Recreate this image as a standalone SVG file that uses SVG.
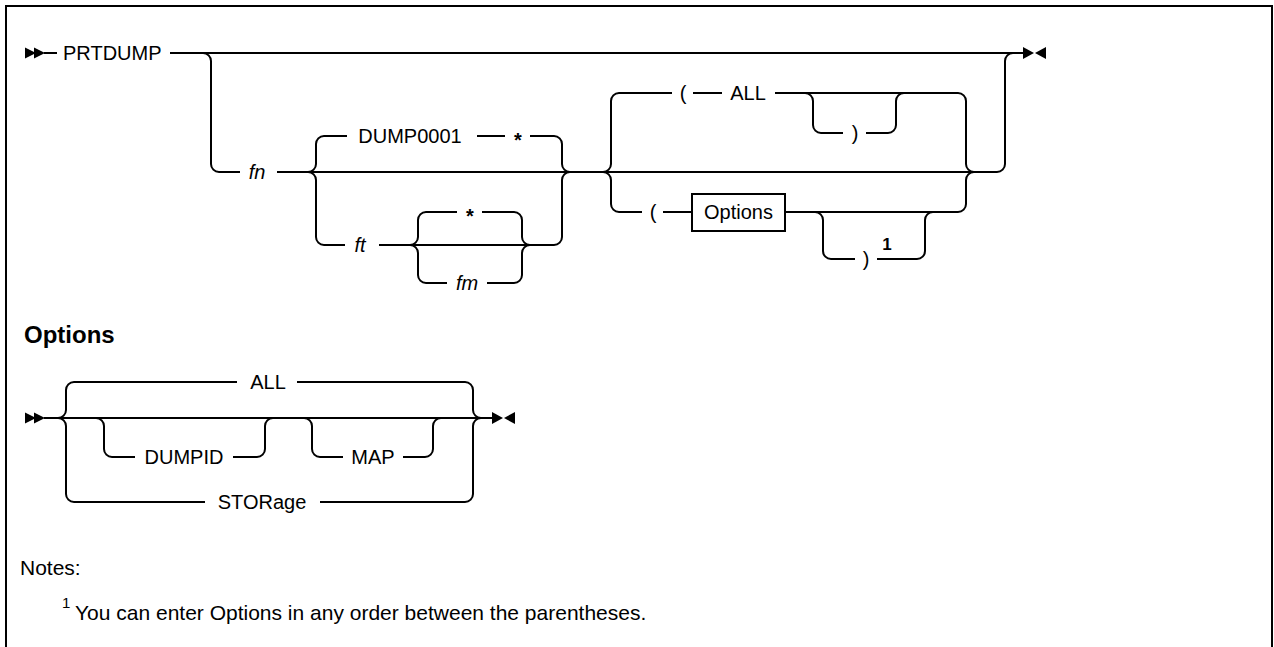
<svg xmlns="http://www.w3.org/2000/svg" width="1274" height="647" viewBox="0 0 1274 647">
  <style>
    .ln { fill: none; stroke: #000; stroke-width: 2; }
    .frame { fill: none; stroke: #000; stroke-width: 2; }
    .t { font-family: "Liberation Sans", Arial, sans-serif; font-size: 20px; fill: #000; }
    .c { text-anchor: middle; }
    .i { font-style: italic; }
    .b { font-weight: bold; }
    .hd { font-family: "Liberation Sans", Arial, sans-serif; font-size: 24px; font-weight: bold; fill: #000; }
    .nt { font-family: "Liberation Sans", Arial, sans-serif; font-size: 21px; fill: #000; }
    .sup { font-family: "Liberation Sans", Arial, sans-serif; font-size: 15px; fill: #000; }
    .mk { fill: #000; stroke: none; }
    .box { fill: #fff; stroke: #000; stroke-width: 2; }
  </style>
  <defs>
    <g id="start">
      <polygon points="0,-5.5 11,0 0,5.5"/>
      <polygon points="9,-5.5 20,0 9,5.5"/>
    </g>
    <g id="end">
      <polygon points="0,-6 11,0 0,6"/>
      <polygon points="23,-6 12,0 23,6"/>
    </g>
  </defs>

  <rect x="0" y="0" width="1274" height="647" fill="#fff"/>
  <!-- frame (open at the bottom) -->
  <path class="frame" d="M6,647 V6 H1272 V647"/>

  <!-- ===== PRTDUMP syntax ===== -->
  <g id="connectors-main">
    <!-- main line -->
    <path class="ln" d="M44,53 H57"/>
    <path class="ln" d="M170,53 H1023"/>
    <!-- optional fn branch -->
    <path class="ln" d="M203,53 A8 8 0 0 1 211,61 V164 A8 8 0 0 0 219,172 H240"/>
    <path class="ln" d="M277,172 H997 A8 8 0 0 0 1005,164 V61 A8 8 0 0 1 1013,53"/>
    <!-- fn choice: DUMP0001 * -->
    <path class="ln" d="M308,172 A8 8 0 0 0 316,164 V144 A8 8 0 0 1 324,136 H347"/>
    <path class="ln" d="M477,136 H505"/>
    <path class="ln" d="M530,136 H554 A8 8 0 0 1 562,144 V164 A8 8 0 0 0 570,172"/>
    <!-- fn choice: ft -->
    <path class="ln" d="M308,172 A8 8 0 0 1 316,180 V237 A8 8 0 0 0 324,245 H345"/>
    <path class="ln" d="M379,245 H554 A8 8 0 0 0 562,237 V180 A8 8 0 0 1 570,172"/>
    <!-- fm group: * / fm -->
    <path class="ln" d="M410,245 A8 8 0 0 0 418,237 V220 A8 8 0 0 1 426,212 H457"/>
    <path class="ln" d="M482,212 H514 A8 8 0 0 1 522,220 V237 A8 8 0 0 0 530,245"/>
    <path class="ln" d="M410,245 A8 8 0 0 1 418,253 V275 A8 8 0 0 0 426,283 H447"/>
    <path class="ln" d="M487,283 H514 A8 8 0 0 0 522,275 V253 A8 8 0 0 1 530,245"/>
    <!-- option group: ( ALL [)] -->
    <path class="ln" d="M603,172 A8 8 0 0 0 611,164 V101 A8 8 0 0 1 619,93 H672"/>
    <path class="ln" d="M693,93 H722"/>
    <path class="ln" d="M775,93 H958 A8 8 0 0 1 966,101 V164 A8 8 0 0 0 974,172"/>
    <path class="ln" d="M805,93 A8 8 0 0 1 813,101 V125 A8 8 0 0 0 821,133 H843"/>
    <path class="ln" d="M866,133 H888 A8 8 0 0 0 896,125 V101 A8 8 0 0 1 904,93"/>
    <!-- option group: ( Options [)1] -->
    <path class="ln" d="M603,172 A8 8 0 0 1 611,180 V204 A8 8 0 0 0 619,212 H642"/>
    <path class="ln" d="M663,212 H692"/>
    <path class="ln" d="M785,212 H958 A8 8 0 0 0 966,204 V180 A8 8 0 0 1 974,172"/>
    <path class="ln" d="M815,212 A8 8 0 0 1 823,220 V251 A8 8 0 0 0 831,259 H855"/>
    <path class="ln" d="M877,259 H917 A8 8 0 0 0 925,251 V220 A8 8 0 0 1 933,212"/>
  </g>

  <g id="start-main"><use href="#start" class="mk" x="25" y="53"/></g>
  <g id="end-main"><use href="#end" class="mk" x="1023" y="53"/></g>

  <g id="kw-prtdump"><text class="t" x="63" y="60">PRTDUMP</text></g>
  <g id="var-fn"><text class="t c i" x="257" y="179">fn</text></g>
  <g id="kw-dump0001"><text class="t c" x="410" y="143">DUMP0001</text></g>
  <g id="lit-star1"><text class="t c b" x="518" y="147">*</text></g>
  <g id="var-ft"><text class="t c i" x="360" y="252">ft</text></g>
  <g id="lit-star2"><text class="t c b" x="470" y="223">*</text></g>
  <g id="var-fm"><text class="t c i" x="467" y="290">fm</text></g>
  <g id="lit-lparen1"><text class="t c" x="683" y="100">(</text></g>
  <g id="kw-all1"><text class="t c" x="748" y="100">ALL</text></g>
  <g id="lit-rparen1"><text class="t c" x="855" y="140">)</text></g>
  <g id="lit-lparen2"><text class="t c" x="653" y="219">(</text></g>
  <g id="ref-options">
    <rect class="box" x="692" y="194" width="93" height="37"/>
    <text class="t c" x="738.5" y="219">Options</text>
  </g>
  <g id="lit-rparen2">
    <text class="t c" x="866" y="266">)</text>
    <text class="t c b" x="887" y="250" style="font-size:17px">1</text>
  </g>

  <!-- ===== Options fragment ===== -->
  <g id="heading-options"><text class="hd" x="24" y="343">Options</text></g>

  <g id="connectors-options">
    <path class="ln" d="M44,418 H492"/>
    <!-- ALL -->
    <path class="ln" d="M58,418 A8 8 0 0 0 66,410 V390 A8 8 0 0 1 74,382 H237"/>
    <path class="ln" d="M297,382 H465 A8 8 0 0 1 473,390 V410 A8 8 0 0 0 481,418"/>
    <!-- STORage -->
    <path class="ln" d="M58,418 A8 8 0 0 1 66,426 V494 A8 8 0 0 0 74,502 H205"/>
    <path class="ln" d="M320,502 H465 A8 8 0 0 0 473,494 V426 A8 8 0 0 1 481,418"/>
    <!-- DUMPID -->
    <path class="ln" d="M96,418 A8 8 0 0 1 104,426 V449 A8 8 0 0 0 112,457 H135"/>
    <path class="ln" d="M233,457 H257 A8 8 0 0 0 265,449 V426 A8 8 0 0 1 273,418"/>
    <!-- MAP -->
    <path class="ln" d="M304,418 A8 8 0 0 1 312,426 V449 A8 8 0 0 0 320,457 H343"/>
    <path class="ln" d="M403,457 H425 A8 8 0 0 0 433,449 V426 A8 8 0 0 1 441,418"/>
  </g>

  <g id="start-options"><use href="#start" class="mk" x="25" y="418"/></g>
  <g id="end-options"><use href="#end" class="mk" x="492" y="418"/></g>

  <g id="kw-all2"><text class="t c" x="268" y="389">ALL</text></g>
  <g id="kw-dumpid"><text class="t c" x="184" y="464">DUMPID</text></g>
  <g id="kw-map"><text class="t c" x="373" y="464">MAP</text></g>
  <g id="kw-storage"><text class="t c" x="262" y="509">STORage</text></g>

  <!-- ===== notes ===== -->
  <g id="notes">
    <text class="nt" x="20" y="575">Notes:</text>
    <text class="sup" x="62" y="608">1</text>
    <text class="nt" x="75" y="620">You can enter Options in any order between the parentheses.</text>
  </g>
</svg>
